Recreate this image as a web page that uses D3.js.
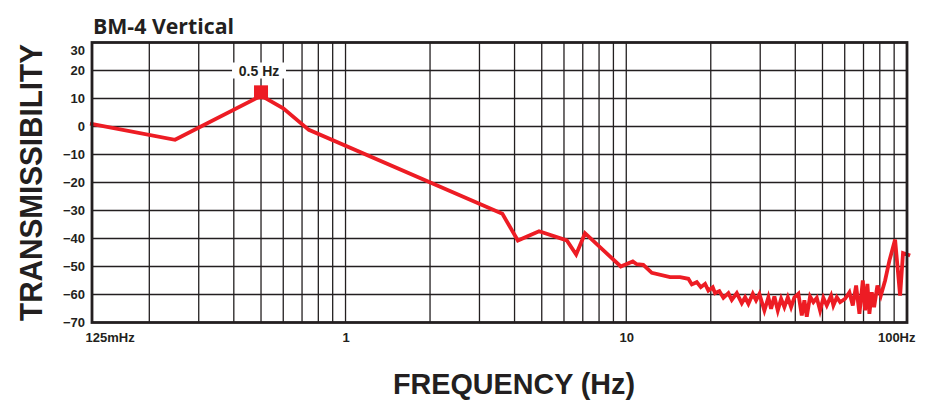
<!DOCTYPE html>
<html>
<head>
<meta charset="utf-8">
<script src="https://cdn.jsdelivr.net/npm/d3@7"></script>
<style>
  html, body { margin: 0; padding: 0; background: #fff; }
  svg { display: block; }
</style>
</head>
<body>
<div id="chart"></div>
<script>
// ---- data ----
const chartTitle = "BM-4 Vertical";
const yTitle = "TRANSMISSIBILITY";
const xTitle = "FREQUENCY (Hz)";

const freqHz = [
  0.123, 0.247, 0.5, 0.6, 0.74, 3.62, 4.11, 4.89, 6.14, 6.63, 7.13, 9.56, 10.55, 10.9, 11.5,
  12.33, 14.32, 15.55, 16.64, 17.12, 17.83, 18.43, 19.09, 19.61, 20.33, 20.72, 21.46, 22.18,
  23.11, 23.76, 24.76, 25.79, 26.5, 27.23, 28.23, 29.0, 29.8, 31.05, 32.08, 32.8, 33.7, 34.65,
  35.61, 36.58, 37.62, 38.65, 39.71, 41.03, 42.19, 43.1, 43.95, 45.16, 46.4, 47.72, 49.02,
  50.37, 51.79, 53.65, 54.67, 56.23, 57.78, 60.19, 62.35, 64.11, 65.88, 67.69, 69.6, 70.92,
  72.27, 73.46, 74.92, 76.35, 78.45, 80.67, 83.56, 86.56, 90.7, 94.49, 96.8, 102.6
];
const transmissibilityDb = [
  1, -4.75, 11, 6.5, -1.2, -31.2, -40.7, -37.4, -40.7, -45.7, -38.1, -50, -48.2, -49.2, -49.4,
  -52.25, -53.8, -53.8, -54.4, -56.4, -55.6, -57.4, -56.2, -58.6, -57.4, -59.5, -58.8, -61.2,
  -59.5, -61.9, -59.5, -63.1, -61.0, -63.3, -59.75, -62.1, -59.8, -65.7, -61.0, -65.1, -60.7, -65.7,
  -61.5, -64.5, -61.0, -64.5, -61.0, -59.75, -67.5, -62.1, -67.9, -60.7, -62.75, -61.2, -65.7,
  -61.2, -63.9, -60.4, -63.9, -61.0, -62.75, -61.5, -59.2, -63.9, -56.8, -66.9, -55.0, -65.7,
  -56.2, -66.9, -59.2, -64.5, -56.8, -60.4, -55.0, -47.9, -40.4, -60.4, -45.2, -46.1
];

const peakFreq = [0.5];
const peakMarkerDb = [12.2];
const peakLabel = ["0.5 Hz"];
const peakLabelDb = [20];

const yTickValues = [30, 20, 10, 0, -10, -20, -30, -40, -50, -60, -70];
const xTickValues = [0.125, 1, 10, 100];
const xTickLabels = ["125mHz", "1", "10", "100Hz"];

// ---- layout ----
const W = 947, H = 402;
const svg = d3.select("#chart").append("svg").attr("width", W).attr("height", H);

const x = d3.scaleLog().domain([0.125, 100]).range([92, 907]);
const y = d3.scaleLinear().domain([-70, 30]).range([322.5, 42.5]);

const ink = "#231f20";
const red = "#ed1c24";

// grid
const grid = svg.append("g");
grid.selectAll("line.v")
  .data(x.ticks().filter(d => d > 0.125 && d < 100))
  .join("line")
  .attr("x1", d => x(d)).attr("x2", d => x(d))
  .attr("y1", y(30)).attr("y2", y(-70))
  .attr("stroke", ink).attr("stroke-width", 1.3);
grid.selectAll("line.h")
  .data(yTickValues.filter(d => d > -70 && d < 30))
  .join("line")
  .attr("x1", x(0.125)).attr("x2", x(100))
  .attr("y1", d => y(d)).attr("y2", d => y(d))
  .attr("stroke", ink).attr("stroke-width", 1.4);

// y axis labels
const yAxis = d3.axisLeft(y).tickValues(yTickValues).tickSize(0).tickPadding(7);
const gy = svg.append("g").attr("transform", `translate(${x(0.125)},0)`).call(yAxis);
gy.select(".domain").remove();
gy.selectAll("text")
  .attr("font-family", "Liberation Sans, Arial, sans-serif")
  .attr("font-weight", "bold").attr("font-size", 13).attr("fill", ink)
  .attr("dy", d => d === 30 ? "0.95em" : "0.34em");

// x axis labels
const xAxis = d3.axisBottom(x).tickValues(xTickValues).tickSize(0).tickPadding(10)
  .tickFormat((d, i) => xTickLabels[i]);
const gx = svg.append("g").attr("transform", `translate(0,${y(-70)})`).call(xAxis);
gx.select(".domain").remove();
gx.selectAll("text")
  .attr("font-family", "Liberation Sans, Arial, sans-serif")
  .attr("font-weight", "bold").attr("font-size", 13).attr("fill", ink)
  .attr("text-anchor", (d, i) => i === 0 ? "start" : (i === xTickValues.length - 1 ? "end" : "middle"))
  .attr("dx", (d, i) => i === 0 ? -7 : (i === xTickValues.length - 1 ? 8 : 0));

// data line
const pts = freqHz.map((f, i) => [f, transmissibilityDb[i]]);
const line = d3.line().x(d => x(d[0])).y(d => y(d[1]));
svg.append("path")
  .datum(pts)
  .attr("d", line)
  .attr("fill", "none")
  .attr("stroke", red)
  .attr("stroke-width", 3.8)
  .attr("stroke-linejoin", "miter");

// border
svg.append("rect")
  .attr("x", x(0.125)).attr("y", y(30))
  .attr("width", x(100) - x(0.125)).attr("height", y(-70) - y(30))
  .attr("fill", "none").attr("stroke", ink).attr("stroke-width", 2.8);

// peak marker
svg.selectAll("rect.peak")
  .data(peakFreq)
  .join("rect")
  .attr("x", d => x(d) - 7).attr("y", (d, i) => y(peakMarkerDb[i]) - 7)
  .attr("width", 14).attr("height", 14)
  .attr("fill", red);

// peak label
const lab = svg.selectAll("g.plab").data(peakFreq).join("g")
  .attr("transform", (d, i) => `translate(${x(d) - 2},${y(peakLabelDb[i])})`);
lab.append("rect")
  .attr("x", -27).attr("y", -8).attr("width", 54).attr("height", 16)
  .attr("fill", "#fff");
lab.append("text")
  .text((d, i) => peakLabel[i])
  .attr("text-anchor", "middle").attr("dy", "0.36em")
  .attr("font-family", "Liberation Sans, Arial, sans-serif")
  .attr("font-weight", "bold").attr("font-size", 14).attr("fill", ink);

// title
svg.append("text")
  .text(chartTitle)
  .attr("x", 93).attr("y", 34)
  .attr("textLength", 141).attr("lengthAdjust", "spacingAndGlyphs")
  .attr("font-family", "Open Sans, sans-serif")
  .attr("font-weight", "bold").attr("font-size", 22).attr("fill", ink);

// axis titles
svg.append("text")
  .text(yTitle)
  .attr("transform", `translate(42,${(y(30) + y(-70)) / 2}) rotate(-90)`)
  .attr("text-anchor", "middle")
  .attr("textLength", 277).attr("lengthAdjust", "spacingAndGlyphs")
  .attr("font-family", "Liberation Sans, Arial, sans-serif")
  .attr("font-weight", "bold").attr("font-size", 31).attr("fill", ink);

svg.append("text")
  .text(xTitle)
  .attr("x", 514).attr("y", 394)
  .attr("text-anchor", "middle")
  .attr("textLength", 242).attr("lengthAdjust", "spacingAndGlyphs")
  .attr("font-family", "Liberation Sans, Arial, sans-serif")
  .attr("font-weight", "bold").attr("font-size", 30).attr("fill", ink);
</script>
</body>
</html>
